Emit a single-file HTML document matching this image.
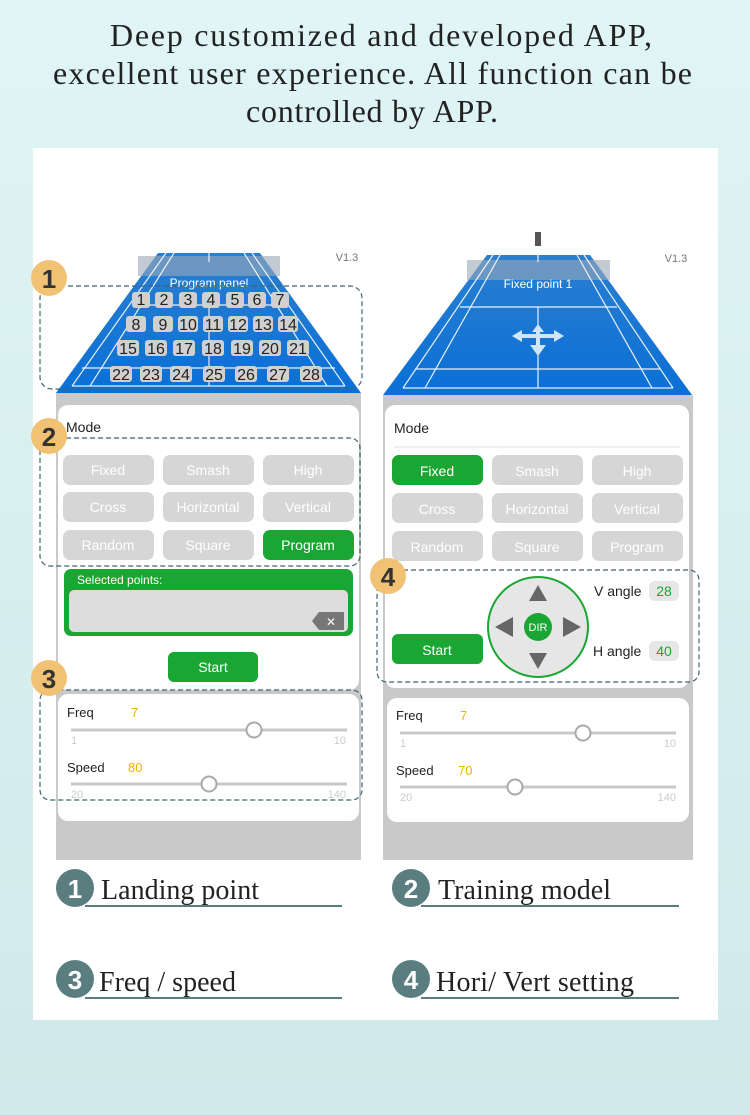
<!DOCTYPE html>
<html><head><meta charset="utf-8"><style>
html,body{margin:0;padding:0;}
body{width:750px;height:1115px;overflow:hidden;background:linear-gradient(#e0f5f5,#cfe9ea);}
svg{display:block;}
text{font-family:"Liberation Sans",sans-serif;}
</style></head><body>
<svg width="750" height="1115" viewBox="0 0 750 1115" xmlns="http://www.w3.org/2000/svg">
<defs>
<linearGradient id="cg" x1="0" y1="0" x2="0" y2="1"><stop offset="0" stop-color="#2a7fd0"/><stop offset="1" stop-color="#0a6fd6"/></linearGradient>
</defs>
<g font-size="32" fill="#222">
<text x="110" y="46" textLength="542" lengthAdjust="spacing" style="font-family:'Liberation Serif',serif">Deep customized and developed APP,</text>
<text x="53" y="84" textLength="639" lengthAdjust="spacing" style="font-family:'Liberation Serif',serif">excellent user experience. All function can be</text>
<text x="246" y="122" textLength="252" lengthAdjust="spacing" style="font-family:'Liberation Serif',serif">controlled by APP.</text>
</g>
<rect x="33" y="148" width="685" height="872" fill="#fff"/>

<!-- LEFT PHONE -->
<rect x="56" y="393" width="305" height="467" fill="#c9c9c9"/>
<polygon points="158,253 260,253 361,393 56,393" fill="url(#cg)"/>
<rect x="138" y="256" width="142" height="20" fill="#9aa8b8" opacity="0.6"/>
<g stroke="#fff" stroke-width="1.2" fill="none" opacity="0.9">
<line x1="166" y1="253" x2="72" y2="386"/><line x1="174" y1="253" x2="90" y2="386"/>
<line x1="252" y1="253" x2="345" y2="386"/><line x1="244" y1="253" x2="327" y2="386"/>
<line x1="72" y1="386" x2="345" y2="386"/><line x1="209" y1="300" x2="209" y2="386"/>
<line x1="82" y1="368" x2="335" y2="368"/><line x1="140" y1="305" x2="278" y2="305"/>
<line x1="209" y1="243" x2="209" y2="262"/>
</g>
<text x="209" y="287" font-size="12" fill="#fff" text-anchor="middle">Program panel</text>
<text x="347" y="261" font-size="11" fill="#777" text-anchor="middle">V1.3</text>
<g font-size="16" fill="#222" text-anchor="middle">
<g fill="#d0d0d0"><rect x="132" y="292" width="18" height="16" rx="3"/><rect x="155" y="292" width="18" height="16" rx="3"/><rect x="179" y="292" width="18" height="16" rx="3"/><rect x="202" y="292" width="18" height="16" rx="3"/><rect x="226" y="292" width="18" height="16" rx="3"/><rect x="248" y="292" width="18" height="16" rx="3"/><rect x="271" y="292" width="18" height="16" rx="3"/>
<rect x="126" y="316" width="20" height="16" rx="3"/><rect x="153" y="316" width="20" height="16" rx="3"/><rect x="178" y="316" width="20" height="16" rx="3"/><rect x="203" y="316" width="20" height="16" rx="3"/><rect x="228" y="316" width="20" height="16" rx="3"/><rect x="253" y="316" width="20" height="16" rx="3"/><rect x="278" y="316" width="20" height="16" rx="3"/>
<rect x="117" y="340" width="22" height="16" rx="3"/><rect x="145" y="340" width="22" height="16" rx="3"/><rect x="173" y="340" width="22" height="16" rx="3"/><rect x="202" y="340" width="22" height="16" rx="3"/><rect x="231" y="340" width="22" height="16" rx="3"/><rect x="259" y="340" width="22" height="16" rx="3"/><rect x="287" y="340" width="22" height="16" rx="3"/>
<rect x="110" y="366" width="22" height="16" rx="3"/><rect x="140" y="366" width="22" height="16" rx="3"/><rect x="170" y="366" width="22" height="16" rx="3"/><rect x="203" y="366" width="22" height="16" rx="3"/><rect x="235" y="366" width="22" height="16" rx="3"/><rect x="267" y="366" width="22" height="16" rx="3"/><rect x="300" y="366" width="22" height="16" rx="3"/></g>
<text x="141" y="305">1</text><text x="164" y="305">2</text><text x="188" y="305">3</text><text x="211" y="305">4</text><text x="235" y="305">5</text><text x="257" y="305">6</text><text x="280" y="305">7</text>
<text x="136" y="330">8</text><text x="163" y="330">9</text><text x="188" y="330">10</text><text x="213" y="330">11</text><text x="238" y="330">12</text><text x="263" y="330">13</text><text x="288" y="330">14</text>
<text x="128" y="354">15</text><text x="156" y="354">16</text><text x="184" y="354">17</text><text x="213" y="354">18</text><text x="242" y="354">19</text><text x="270" y="354">20</text><text x="298" y="354">21</text>
<text x="121" y="380">22</text><text x="151" y="380">23</text><text x="181" y="380">24</text><text x="214" y="380">25</text><text x="246" y="380">26</text><text x="278" y="380">27</text><text x="311" y="380">28</text>
</g>
<rect x="58" y="405" width="301" height="285" rx="10" fill="#fff"/>
<text x="66" y="432" font-size="14" fill="#222">Mode</text>
<g fill="#d6d6d6"><rect x="63" y="455" width="91" height="30" rx="7"/><rect x="163" y="455" width="91" height="30" rx="7"/><rect x="263" y="455" width="91" height="30" rx="7"/>
<rect x="63" y="492" width="91" height="30" rx="7"/><rect x="163" y="492" width="91" height="30" rx="7"/><rect x="263" y="492" width="91" height="30" rx="7"/>
<rect x="63" y="530" width="91" height="30" rx="7"/><rect x="163" y="530" width="91" height="30" rx="7"/></g>
<rect x="263" y="530" width="91" height="30" rx="7" fill="#1aa632"/>
<g font-size="14" fill="#fff" text-anchor="middle">
<text x="108" y="475">Fixed</text><text x="208" y="475">Smash</text><text x="308" y="475">High</text>
<text x="108" y="512">Cross</text><text x="208" y="512">Horizontal</text><text x="308" y="512">Vertical</text>
<text x="108" y="550">Random</text><text x="208" y="550">Square</text><text x="308" y="550">Program</text></g>
<rect x="64" y="569" width="289" height="67" rx="7" fill="#1aa632"/>
<text x="77" y="584" font-size="12" fill="#fff">Selected points:</text>
<rect x="69" y="590" width="279" height="42" rx="5" fill="#dcdcdc"/>
<polygon points="312,621 319,612 344,612 344,630 319,630" fill="#777"/>
<text x="331" y="626" font-size="12" fill="#fff" text-anchor="middle">✕</text>
<rect x="168" y="652" width="90" height="30" rx="6" fill="#1aa632"/>
<text x="213" y="672" font-size="14" fill="#fff" text-anchor="middle">Start</text>
<rect x="58" y="694" width="301" height="127" rx="10" fill="#fff"/>
<text x="67" y="717" font-size="13" fill="#222">Freq</text><text x="131" y="717" font-size="13" fill="#f0b400">7</text>
<line x1="71" y1="730" x2="347" y2="730" stroke="#c8c8c8" stroke-width="3"/>
<circle cx="254" cy="730" r="7.5" fill="#fff" stroke="#aaa" stroke-width="2"/>
<text x="71" y="744" font-size="11" fill="#ccc">1</text><text x="346" y="744" font-size="11" fill="#ccc" text-anchor="end">10</text>
<text x="67" y="772" font-size="13" fill="#222">Speed</text><text x="128" y="772" font-size="13" fill="#f0b400">80</text>
<line x1="71" y1="784" x2="347" y2="784" stroke="#c8c8c8" stroke-width="3"/>
<circle cx="209" cy="784" r="7.5" fill="#fff" stroke="#aaa" stroke-width="2"/>
<text x="71" y="798" font-size="11" fill="#ccc">20</text><text x="346" y="798" font-size="11" fill="#ccc" text-anchor="end">140</text>

<!-- RIGHT PHONE -->
<rect x="383" y="395" width="310" height="465" fill="#c9c9c9"/>
<polygon points="487,255 590,255 692,395 383,395" fill="url(#cg)"/>
<rect x="467" y="260" width="143" height="20" fill="#9aa8b8" opacity="0.6"/>
<g stroke="#fff" stroke-width="1.2" fill="none" opacity="0.9">
<line x1="493" y1="255" x2="403" y2="388"/><line x1="500" y1="255" x2="425" y2="388"/>
<line x1="584" y1="255" x2="673" y2="388"/><line x1="577" y1="255" x2="652" y2="388"/>
<line x1="403" y1="388" x2="673" y2="388"/><line x1="538" y1="307" x2="538" y2="388"/>
<line x1="415" y1="369" x2="660" y2="369"/><line x1="460" y1="307" x2="617" y2="307"/>
<line x1="538" y1="240" x2="538" y2="262"/></g>
<rect x="535" y="232" width="6" height="14" fill="#555"/>
<text x="538" y="288" font-size="12" fill="#fff" text-anchor="middle">Fixed point 1</text>
<text x="676" y="262" font-size="11" fill="#777" text-anchor="middle">V1.3</text>
<g fill="#cfe6f8"><polygon points="512,336 522,330 522,342"/><polygon points="564,336 554,330 554,342"/><rect x="520" y="334" width="36" height="4"/><polygon points="538,324 532,332 544,332"/><polygon points="538,356 530,345 546,345"/><rect x="536" y="330" width="4" height="18"/></g>
<rect x="385" y="405" width="304" height="283" rx="10" fill="#fff"/>
<text x="394" y="433" font-size="14" fill="#222">Mode</text>
<line x1="394" y1="447" x2="680" y2="447" stroke="#ddd"/>
<g fill="#d6d6d6"><rect x="392" y="455" width="91" height="30" rx="7"/><rect x="492" y="455" width="91" height="30" rx="7"/><rect x="592" y="455" width="91" height="30" rx="7"/>
<rect x="392" y="493" width="91" height="30" rx="7"/><rect x="492" y="493" width="91" height="30" rx="7"/><rect x="592" y="493" width="91" height="30" rx="7"/>
<rect x="392" y="531" width="91" height="30" rx="7"/><rect x="492" y="531" width="91" height="30" rx="7"/><rect x="592" y="531" width="91" height="30" rx="7"/></g>
<rect x="392" y="455" width="91" height="30" rx="7" fill="#1aa632"/>
<g font-size="14" fill="#fff" text-anchor="middle">
<text x="437" y="476">Fixed</text><text x="537" y="476">Smash</text><text x="637" y="476">High</text>
<text x="437" y="514">Cross</text><text x="537" y="514">Horizontal</text><text x="637" y="514">Vertical</text>
<text x="437" y="552">Random</text><text x="537" y="552">Square</text><text x="637" y="552">Program</text></g>
<rect x="392" y="634" width="91" height="30" rx="6" fill="#1aa632"/>
<text x="437" y="655" font-size="14" fill="#fff" text-anchor="middle">Start</text>
<circle cx="538" cy="627" r="50" fill="#e6e6e6" stroke="#1aa632" stroke-width="2"/>
<circle cx="538" cy="627" r="14" fill="#1aa632"/>
<text x="538" y="631" font-size="11" fill="#fff" text-anchor="middle">DIR</text>
<g fill="#666"><polygon points="538,585 529,601 547,601"/><polygon points="538,669 529,653 547,653"/><polygon points="495,627 513,617 513,637"/><polygon points="581,627 563,617 563,637"/></g>
<text x="594" y="596" font-size="14" fill="#222">V angle</text>
<rect x="649" y="581" width="30" height="20" rx="6" fill="#e6e6e6"/><text x="664" y="596" font-size="14" fill="#1aa632" text-anchor="middle">28</text>
<text x="593" y="656" font-size="14" fill="#222">H angle</text>
<rect x="649" y="641" width="30" height="20" rx="6" fill="#e6e6e6"/><text x="664" y="656" font-size="14" fill="#1aa632" text-anchor="middle">40</text>
<rect x="387" y="698" width="302" height="124" rx="10" fill="#fff"/>
<text x="396" y="720" font-size="13" fill="#222">Freq</text><text x="460" y="720" font-size="13" fill="#f0b400">7</text>
<line x1="400" y1="733" x2="676" y2="733" stroke="#c8c8c8" stroke-width="3"/>
<circle cx="583" cy="733" r="7.5" fill="#fff" stroke="#aaa" stroke-width="2"/>
<text x="400" y="747" font-size="11" fill="#ccc">1</text><text x="676" y="747" font-size="11" fill="#ccc" text-anchor="end">10</text>
<text x="396" y="775" font-size="13" fill="#222">Speed</text><text x="458" y="775" font-size="13" fill="#f0b400">70</text>
<line x1="400" y1="787" x2="676" y2="787" stroke="#c8c8c8" stroke-width="3"/>
<circle cx="515" cy="787" r="7.5" fill="#fff" stroke="#aaa" stroke-width="2"/>
<text x="400" y="801" font-size="11" fill="#ccc">20</text><text x="676" y="801" font-size="11" fill="#ccc" text-anchor="end">140</text>

<g fill="none" stroke="#3d6470" stroke-width="1.2" stroke-dasharray="5,3">
<rect x="40" y="286" width="322" height="103" rx="12"/>
<rect x="40" y="438" width="320" height="128" rx="10"/>
<rect x="40" y="690" width="322" height="110" rx="10"/>
<rect x="377" y="570" width="322" height="112" rx="10"/>
</g>
<g fill="#f1c273"><circle cx="49" cy="278" r="18"/><circle cx="49" cy="436" r="18"/><circle cx="49" cy="678" r="18"/><circle cx="388" cy="576" r="18"/></g>
<g font-size="26" font-weight="bold" fill="#333" text-anchor="middle">
<text x="49" y="288">1</text><text x="49" y="446">2</text><text x="49" y="688">3</text><text x="388" y="586">4</text></g>

<g fill="#5a7d80"><circle cx="75" cy="888" r="19"/><circle cx="411" cy="888" r="19"/><circle cx="75" cy="979" r="19"/><circle cx="411" cy="979" r="19"/></g>
<g font-size="26" font-weight="bold" fill="#fff" text-anchor="middle">
<text x="75" y="898">1</text><text x="411" y="898">2</text><text x="75" y="989">3</text><text x="411" y="989">4</text></g>
<g stroke="#5a7d80" stroke-width="2"><line x1="85" y1="906" x2="342" y2="906"/><line x1="421" y1="906" x2="679" y2="906"/><line x1="85" y1="998" x2="342" y2="998"/><line x1="421" y1="998" x2="679" y2="998"/></g>
<g font-size="28" fill="#222">
<text x="101" y="899" textLength="158" lengthAdjust="spacing" style="font-family:'Liberation Serif',serif">Landing point</text>
<text x="438" y="899" textLength="173" lengthAdjust="spacing" style="font-family:'Liberation Serif',serif">Training model</text>
<text x="99" y="991" textLength="137" lengthAdjust="spacing" style="font-family:'Liberation Serif',serif">Freq / speed</text>
<text x="436" y="991" textLength="198" lengthAdjust="spacing" style="font-family:'Liberation Serif',serif">Hori/ Vert setting</text>
</g>
</svg>
</body></html>
